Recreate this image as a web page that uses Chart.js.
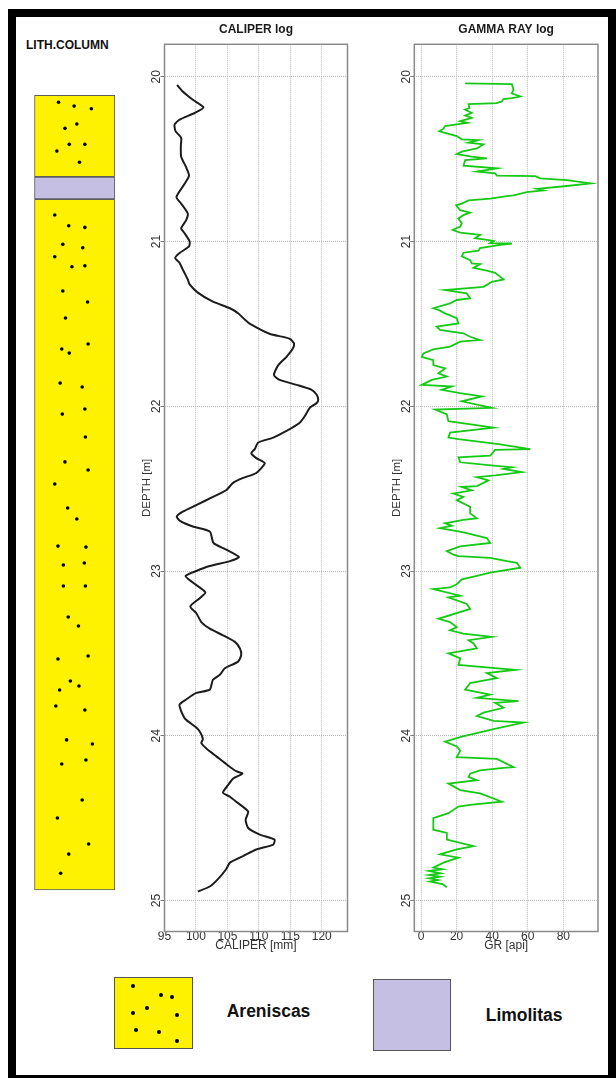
<!DOCTYPE html>
<html>
<head>
<meta charset="utf-8">
<script src="https://cdn.jsdelivr.net/npm/chart.js@4.4.1/dist/chart.umd.min.js"></script>
<style>
  html, body { margin: 0; padding: 0; background: #fff; }
  body { width: 616px; height: 1078px; position: relative; overflow: hidden;
         font-family: "Liberation Sans", Arial, sans-serif; }
  .frame { position: absolute; left: 8px; top: 9px; width: 608px; height: 1074px;
           box-sizing: border-box; border: 8px solid #000; }
  canvas { position: absolute; }
  .label { position: absolute; font-weight: bold; color: #111; white-space: nowrap; }
  .swatch { position: absolute; box-sizing: border-box; border: 1.5px solid #555; }
  .dot { position: absolute; width: 4px; height: 4px; border-radius: 50%; background: #000; }
</style>
</head>
<body>
<div class="frame"></div>
<div class="label" style="left:26px; top:39px; font-size:12px; line-height:12px;">LITH.COLUMN</div>

<canvas id="lith" width="130" height="938" style="left:0px; top:15px;"></canvas>
<canvas id="caliper" width="215" height="938" style="left:140px; top:15px;"></canvas>
<canvas id="gamma" width="215" height="938" style="left:390px; top:15px;"></canvas>

<div id="legend"></div>

<script>
// ---- depth axis ----
const depthMin = 19.803;
const depthMax = 25.188;
const depthTicks = [20, 21, 22, 23, 24, 25];

// ---- caliper log ----
const caliperTicks = [95, 100, 105, 110, 115, 120];
const caliperDepth = [
  20.05, 20.09, 20.14, 20.186, 20.22, 20.26, 20.29, 20.33, 20.37, 20.42,
  20.485, 20.55, 20.60, 20.65, 20.73, 20.77, 20.83, 20.87, 20.92, 20.95,
  21.00, 21.03, 21.07, 21.10, 21.13, 21.17, 21.23, 21.26, 21.31, 21.365,
  21.405, 21.435, 21.475, 21.50, 21.56, 21.59, 21.62, 21.65, 21.70, 21.75,
  21.81, 21.84, 21.87, 21.90, 21.93, 21.96, 21.98, 22.01, 22.06, 22.10,
  22.15, 22.19, 22.22, 22.26, 22.285, 22.315, 22.345, 22.405, 22.435, 22.465,
  22.51, 22.55, 22.60, 22.64, 22.67, 22.694, 22.73, 22.76, 22.83, 22.87,
  22.915, 22.94, 22.97, 23.00, 23.03, 23.07, 23.13, 23.165, 23.215, 23.255,
  23.31, 23.35, 23.39, 23.43, 23.47, 23.51, 23.55, 23.59, 23.63, 23.66,
  23.72, 23.74, 23.78, 23.81, 23.85, 23.90, 23.95, 23.98, 24.02, 24.045,
  24.085, 24.125, 24.18, 24.215, 24.23, 24.26, 24.30, 24.345, 24.37, 24.40,
  24.46, 24.51, 24.56, 24.60, 24.63, 24.66, 24.69, 24.73, 24.77, 24.81,
  24.87, 24.915, 24.945
];
const caliperValue = [
  97.0, 97.9, 99.5, 101.2, 99.8, 97.4, 96.6, 96.75, 97.65, 97.6,
  97.65, 98.45, 98.9, 98.2, 96.9, 97.65, 98.7, 98.45, 97.65, 98.2,
  99.0, 98.9, 97.4, 96.7, 97.4, 97.9, 98.7, 99.0, 100.3, 102.7,
  105.4, 106.7, 107.8, 108.6, 111.7, 114.9, 115.6, 115.4, 114.4, 113.1,
  112.4, 113.3, 116.0, 118.4, 119.2, 119.45, 119.2, 118.1, 117.3, 116.5,
  114.4, 112.3, 109.9, 109.35, 108.8, 109.6, 110.95, 109.6, 107.5, 105.9,
  104.8, 102.7, 100.05, 97.9, 96.95, 97.4, 99.5, 102.2, 102.8, 104.8,
  106.85, 105.4, 102.2, 100.05, 98.35, 99.5, 101.5, 100.6, 99.1, 100.05,
  100.85, 102.2, 104.3, 106.2, 107.0, 107.2, 106.7, 104.6, 103.8, 102.7,
  102.2, 100.05, 98.45, 97.4, 97.65, 98.35, 100.05, 100.7, 101.1, 100.85,
  101.9, 103.25, 105.1, 106.4, 107.4, 105.9, 105.1, 104.3, 105.4, 106.4,
  108.3, 107.9, 108.3, 110.15, 112.5, 112.3, 109.6, 107.5, 105.4, 104.8,
  103.5, 102.2, 100.3
];

// ---- gamma ray log ----
const grTicks = [0, 20, 40, 60, 80];
const grDepth = [
  20.04, 20.045, 20.08, 20.10, 20.12, 20.13, 20.135, 20.15, 20.16, 20.166,
  20.19, 20.20, 20.22, 20.235, 20.25, 20.27, 20.28, 20.30, 20.315, 20.33,
  20.34, 20.36, 20.38, 20.385, 20.40, 20.41, 20.435, 20.455, 20.47, 20.485,
  20.496, 20.506, 20.54, 20.556, 20.575, 20.587, 20.60, 20.603, 20.617, 20.627,
  20.647, 20.663, 20.68, 20.69, 20.70, 20.72, 20.725, 20.74, 20.75, 20.77,
  20.78, 20.81, 20.825, 20.84, 20.86, 20.89, 20.91, 20.93, 20.946, 20.96,
  20.98, 20.99, 20.997, 21.01, 21.012, 21.02, 21.04, 21.056, 21.068, 21.09,
  21.113, 21.133, 21.137, 21.16, 21.177, 21.19, 21.23, 21.245, 21.275, 21.295,
  21.315, 21.345, 21.355, 21.375, 21.405, 21.415, 21.436, 21.466, 21.497, 21.517,
  21.537, 21.557, 21.578, 21.598, 21.608, 21.638, 21.655, 21.68, 21.70, 21.72,
  21.75, 21.77, 21.80, 21.82, 21.84, 21.87, 21.88, 21.90, 21.92, 21.94,
  21.97, 22.01, 22.02, 22.05, 22.09, 22.13, 22.16, 22.19, 22.20, 22.23,
  22.26, 22.265, 22.30, 22.31, 22.34, 22.36, 22.37, 22.38, 22.40, 22.42,
  22.43, 22.45, 22.485, 22.49, 22.51, 22.53, 22.55, 22.57, 22.61, 22.65,
  22.68, 22.69, 22.71, 22.725, 22.74, 22.76, 22.77, 22.80, 22.83, 22.85,
  22.88, 22.90, 22.91, 22.92, 22.94, 22.95, 22.98, 23.01, 23.03, 23.05,
  23.08, 23.10, 23.11, 23.15, 23.16, 23.20, 23.23, 23.29, 23.31, 23.34,
  23.36, 23.38, 23.40, 23.42, 23.44, 23.47, 23.50, 23.53, 23.57, 23.60,
  23.62, 23.65, 23.68, 23.72, 23.75, 23.77, 23.79, 23.80, 23.83, 23.86,
  23.88, 23.91, 23.92, 23.955, 24.005, 24.035, 24.065, 24.09, 24.13, 24.14,
  24.19, 24.195, 24.21, 24.23, 24.25, 24.27, 24.29, 24.33, 24.35, 24.40,
  24.42, 24.43, 24.47, 24.50, 24.57, 24.59, 24.63, 24.67, 24.69, 24.72,
  24.74, 24.77, 24.80, 24.81, 24.82, 24.835, 24.845, 24.855, 24.865, 24.875,
  24.885, 24.90, 24.92
];
const grValue = [
  24.8, 51.1, 52.0, 51.0, 55.8, 51.0, 46.4, 45.4, 42.6, 26.7,
  27.2, 24.8, 28.5, 24.8, 28.5, 22.0, 26.1, 13.5, 12.6, 10.3,
  13.5, 20.1, 22.9, 32.3, 26.7, 35.1, 31.4, 22.9, 20.1, 28.5,
  37.0, 24.8, 23.9, 42.6, 31.4, 41.7, 42.6, 64.2, 67.0, 82.0,
  95.6, 82.0, 65.2, 68.9, 59.5, 52.0, 48.3, 38.9, 26.7, 22.9,
  19.7, 22.0, 27.6, 23.8, 21.0, 22.9, 22.0, 17.8, 22.0, 33.2,
  30.4, 37.0, 40.8, 38.9, 51.1, 44.5, 33.2, 32.3, 23.9, 22.9,
  27.6, 28.5, 33.2, 29.5, 37.0, 41.7, 46.4, 39.8, 35.1, 13.5,
  25.7, 27.6, 20.1, 16.3, 6.9, 9.8, 13.5, 20.1, 21.0, 8.8,
  10.7, 23.8, 27.6, 33.2, 22.0, 16.3, 6.9, 1.3, 0.4, 6.9,
  6.9, 13.5, 9.8, 14.5, 6.0, 0.4, 17.3, 11.6, 22.0, 34.2,
  22.9, 39.8, 7.9, 14.5, 15.4, 40.8, 16.3, 15.4, 21.0, 43.6,
  61.4, 41.7, 38.9, 21.0, 22.0, 40.8, 51.1, 46.4, 56.7, 41.7,
  31.4, 37.9, 31.4, 22.9, 28.5, 18.2, 23.8, 20.1, 27.6, 27.6,
  31.4, 23.8, 13.5, 17.3, 10.7, 21.0, 25.7, 37.0, 38.9, 22.0,
  14.5, 18.2, 21.0, 38.9, 48.3, 53.9, 55.8, 38.9, 31.4, 22.9,
  20.1, 16.3, 6.9, 22.0, 15.4, 25.7, 27.6, 9.8, 16.3, 20.1,
  16.3, 23.8, 39.8, 26.7, 29.5, 31.4, 15.4, 22.0, 21.0, 53.0,
  37.0, 42.6, 27.6, 24.8, 38.9, 31.4, 54.8, 41.7, 46.4, 35.1,
  31.4, 40.8, 57.7, 42.6, 22.9, 13.5, 20.1, 22.0, 20.1, 42.6,
  52.0, 46.4, 33.2, 27.6, 26.7, 31.4, 15.4, 22.0, 33.2, 45.4,
  27.6, 21.0, 15.4, 6.9, 6.9, 14.5, 14.5, 29.5, 20.1, 10.7,
  21.0, 12.6, 6.9, 12.0, 4.5, 11.0, 4.5, 10.5, 4.5, 9.5,
  5.0, 12.0, 14.5
];

// ---- lithology column ----
const lithNames = ['Areniscas', 'Limolitas', 'Areniscas'];
const lithTop = [20.112, 20.607, 20.742];
const lithBase = [20.607, 20.742, 24.935];
const lithColor = { Areniscas: '#fff200', Limolitas: '#c5bfe3' };

// sand grains: position across the column (0 = left edge, 1 = right edge) and depth
const grainAcross = [
  0.20, 0.49, 0.81, 0.32, 0.54, 0.40, 0.69, 0.17, 0.59,
  0.13, 0.39, 0.69, 0.28, 0.65, 0.13, 0.45, 0.69,
  0.28, 0.74, 0.33, 0.26, 0.40, 0.75, 0.64, 0.23, 0.69, 0.27,
  0.70, 0.32, 0.75, 0.13, 0.37, 0.54, 0.71, 0.19, 0.29, 0.68,
  0.29, 0.70, 0.38, 0.57, 0.75, 0.19, 0.42, 0.58, 0.22, 0.15,
  0.69, 0.35, 0.83, 0.26, 0.71, 0.64, 0.18, 0.76, 0.39, 0.24
];
const grainDepth = [
  20.155, 20.178, 20.194, 20.313, 20.287, 20.410, 20.410, 20.451, 20.519,
  20.839, 20.904, 20.914, 21.017, 21.038, 21.092, 21.153, 21.147,
  21.300, 21.367, 21.464, 21.652, 21.677, 21.622, 21.883, 21.859, 22.016,
  22.047, 22.186, 22.337, 22.386, 22.471, 22.617, 22.684, 22.854, 22.848,
  22.963, 22.951, 23.090, 23.090, 23.278, 23.333, 23.515, 23.533, 23.667,
  23.697, 23.721, 23.818, 23.843, 24.024, 24.049, 24.170, 24.146, 24.389,
  24.498, 24.656, 24.717, 24.833
];

// ---- shared helpers ----
const FONT = '"Liberation Sans", Arial, sans-serif';
Chart.defaults.font.family = FONT;
Chart.defaults.devicePixelRatio = 1;

const plotFrame = {
  id: 'plotFrame',
  afterDatasetsDraw(chart) {
    if (!chart.options.plugins.plotFrame || !chart.options.plugins.plotFrame.show) return;
    const { ctx, chartArea: a } = chart;
    ctx.save();
    ctx.strokeStyle = '#8a8a8a';
    ctx.lineWidth = 1.5;
    ctx.strokeRect(a.left, a.top, a.right - a.left, a.bottom - a.top);
    ctx.restore();
  }
};
Chart.register(plotFrame);

function logChart(id, depth, value, opts) {
  const points = depth.map((d, i) => ({ x: value[i], y: d }));
  return new Chart(document.getElementById(id), {
    type: 'scatter',
    data: {
      datasets: [{
        data: points,
        showLine: true,
        borderColor: opts.color,
        borderWidth: opts.lineWidth,
        pointRadius: 0,
        tension: opts.tension,
        fill: false
      }]
    },
    options: {
      responsive: false,
      animation: false,
      events: [],
      layout: { padding: { left: 0, right: opts.padRight, top: 0, bottom: 0 } },
      plugins: {
        legend: { display: false },
        tooltip: { enabled: false },
        plotFrame: { show: true },
        title: {
          display: true,
          text: opts.title,
          fullSize: false,
          color: '#1a1a1a',
          font: { size: 12, weight: 'bold' },
          padding: { top: 7.1, bottom: 7.8 }
        }
      },
      scales: {
        x: {
          type: 'linear',
          min: opts.xMin,
          max: opts.xMax,
          afterBuildTicks: s => { s.ticks = opts.xTicks.map(v => ({ value: v })); },
          afterFit: s => { s.height = 21.5; },
          grid: { color: '#b9b9b9', lineWidth: 1, drawTicks: false },
          border: { display: false, dash: [1, 1] },
          ticks: { color: '#333', font: { size: 12 }, padding: -2, autoSkip: false, maxRotation: 0 },
          title: { display: true, text: opts.xTitle, color: '#333', font: { size: 12 }, padding: 0 }
        },
        y: {
          type: 'linear',
          reverse: true,
          min: depthMin,
          max: depthMax,
          afterBuildTicks: s => { s.ticks = depthTicks.map(v => ({ value: v })); },
          afterFit: s => { s.width = opts.yWidth; },
          grid: { color: '#b9b9b9', lineWidth: 1, drawTicks: true, tickLength: 4, tickColor: '#7a7a7a' },
          border: { display: false, dash: [1, 1] },
          ticks: { color: '#333', font: { size: 12 }, minRotation: 90, maxRotation: 90,
                   crossAlign: 'center', padding: -3, autoSkip: false },
          title: { display: true, text: 'DEPTH [m]', color: '#333', font: { size: 11.5 }, padding: 0 }
        }
      }
    }
  });
}

logChart('caliper', caliperDepth, caliperValue, {
  title: 'CALIPER log', xTitle: 'CALIPER [mm]', color: '#1c1c1c', lineWidth: 2, tension: 0.2,
  xMin: 95, xMax: 124.1, xTicks: caliperTicks, yWidth: 24.5, padRight: 7.5
});

logChart('gamma', grDepth, grValue, {
  title: 'GAMMA RAY log', xTitle: 'GR [api]', color: '#16c916', lineWidth: 1.8, tension: 0,
  xMin: -3.8, xMax: 99.5, xTicks: grTicks, yWidth: 24.3, padRight: 7
});

// lithology column drawn as floating bars on the depth scale, with sand grains as points on top
new Chart(document.getElementById('lith'), {
  type: 'bar',
  data: {
    labels: ['column'],
    datasets: lithNames.map((name, i) => ({
      type: 'bar',
      order: 1,
      data: [[lithTop[i], lithBase[i]]],
      backgroundColor: lithColor[name],
      borderColor: '#5e5e5e',
      borderWidth: 1.2,
      borderSkipped: false,
      grouped: false,
      categoryPercentage: 1,
      barPercentage: 1
    })).concat([{
      type: 'scatter',
      order: 0,
      xAxisID: 'x2',
      data: grainAcross.map((a, i) => ({ x: a, y: grainDepth[i] })),
      pointRadius: 1.8,
      backgroundColor: '#000',
      borderColor: '#000',
      pointBackgroundColor: '#000',
      pointBorderWidth: 0
    }])
  },
  options: {
    responsive: false,
    animation: false,
    events: [],
    layout: { padding: { left: 34.3, right: 15, top: 29.3, bottom: 21.3 } },
    plugins: { legend: { display: false }, tooltip: { enabled: false } },
    scales: {
      x: { display: false },
      x2: { type: 'linear', display: false, min: 0, max: 1 },
      y: { type: 'linear', display: false, reverse: true, min: depthMin, max: depthMax }
    }
  }
});

// legend of lithologies
const legendItems = [
  { name: 'Areniscas', box: [114.3, 977.3, 78.4, 72], text: [226.7, 1003.2] },
  { name: 'Limolitas', box: [373.3, 979.3, 77.7, 71.7], text: [485.7, 1006.5] }
];
const legendGrains = [[18, 8], [45.7, 16.7], [56.7, 18.7], [18, 34.4], [31.7, 30],
                      [61.7, 36.4], [20.4, 51.7], [43.4, 53.7], [61.7, 62.7]];
const legend = document.getElementById('legend');
legendItems.forEach(item => {
  const [x, y, w, h] = item.box;
  const sw = document.createElement('div');
  sw.className = 'swatch';
  sw.style.cssText = `left:${x}px;top:${y}px;width:${w}px;height:${h}px;background:${lithColor[item.name]};`;
  if (item.name === 'Areniscas') {
    legendGrains.forEach(([gx, gy]) => {
      const d = document.createElement('div');
      d.className = 'dot';
      d.style.left = (gx - 2) + 'px';
      d.style.top = (gy - 2) + 'px';
      sw.appendChild(d);
    });
  }
  legend.appendChild(sw);
  const t = document.createElement('div');
  t.className = 'label';
  t.textContent = item.name;
  t.style.cssText = `left:${item.text[0]}px;top:${item.text[1]}px;font-size:17.5px;line-height:17.5px;`;
  legend.appendChild(t);
});
</script>
</body>
</html>
